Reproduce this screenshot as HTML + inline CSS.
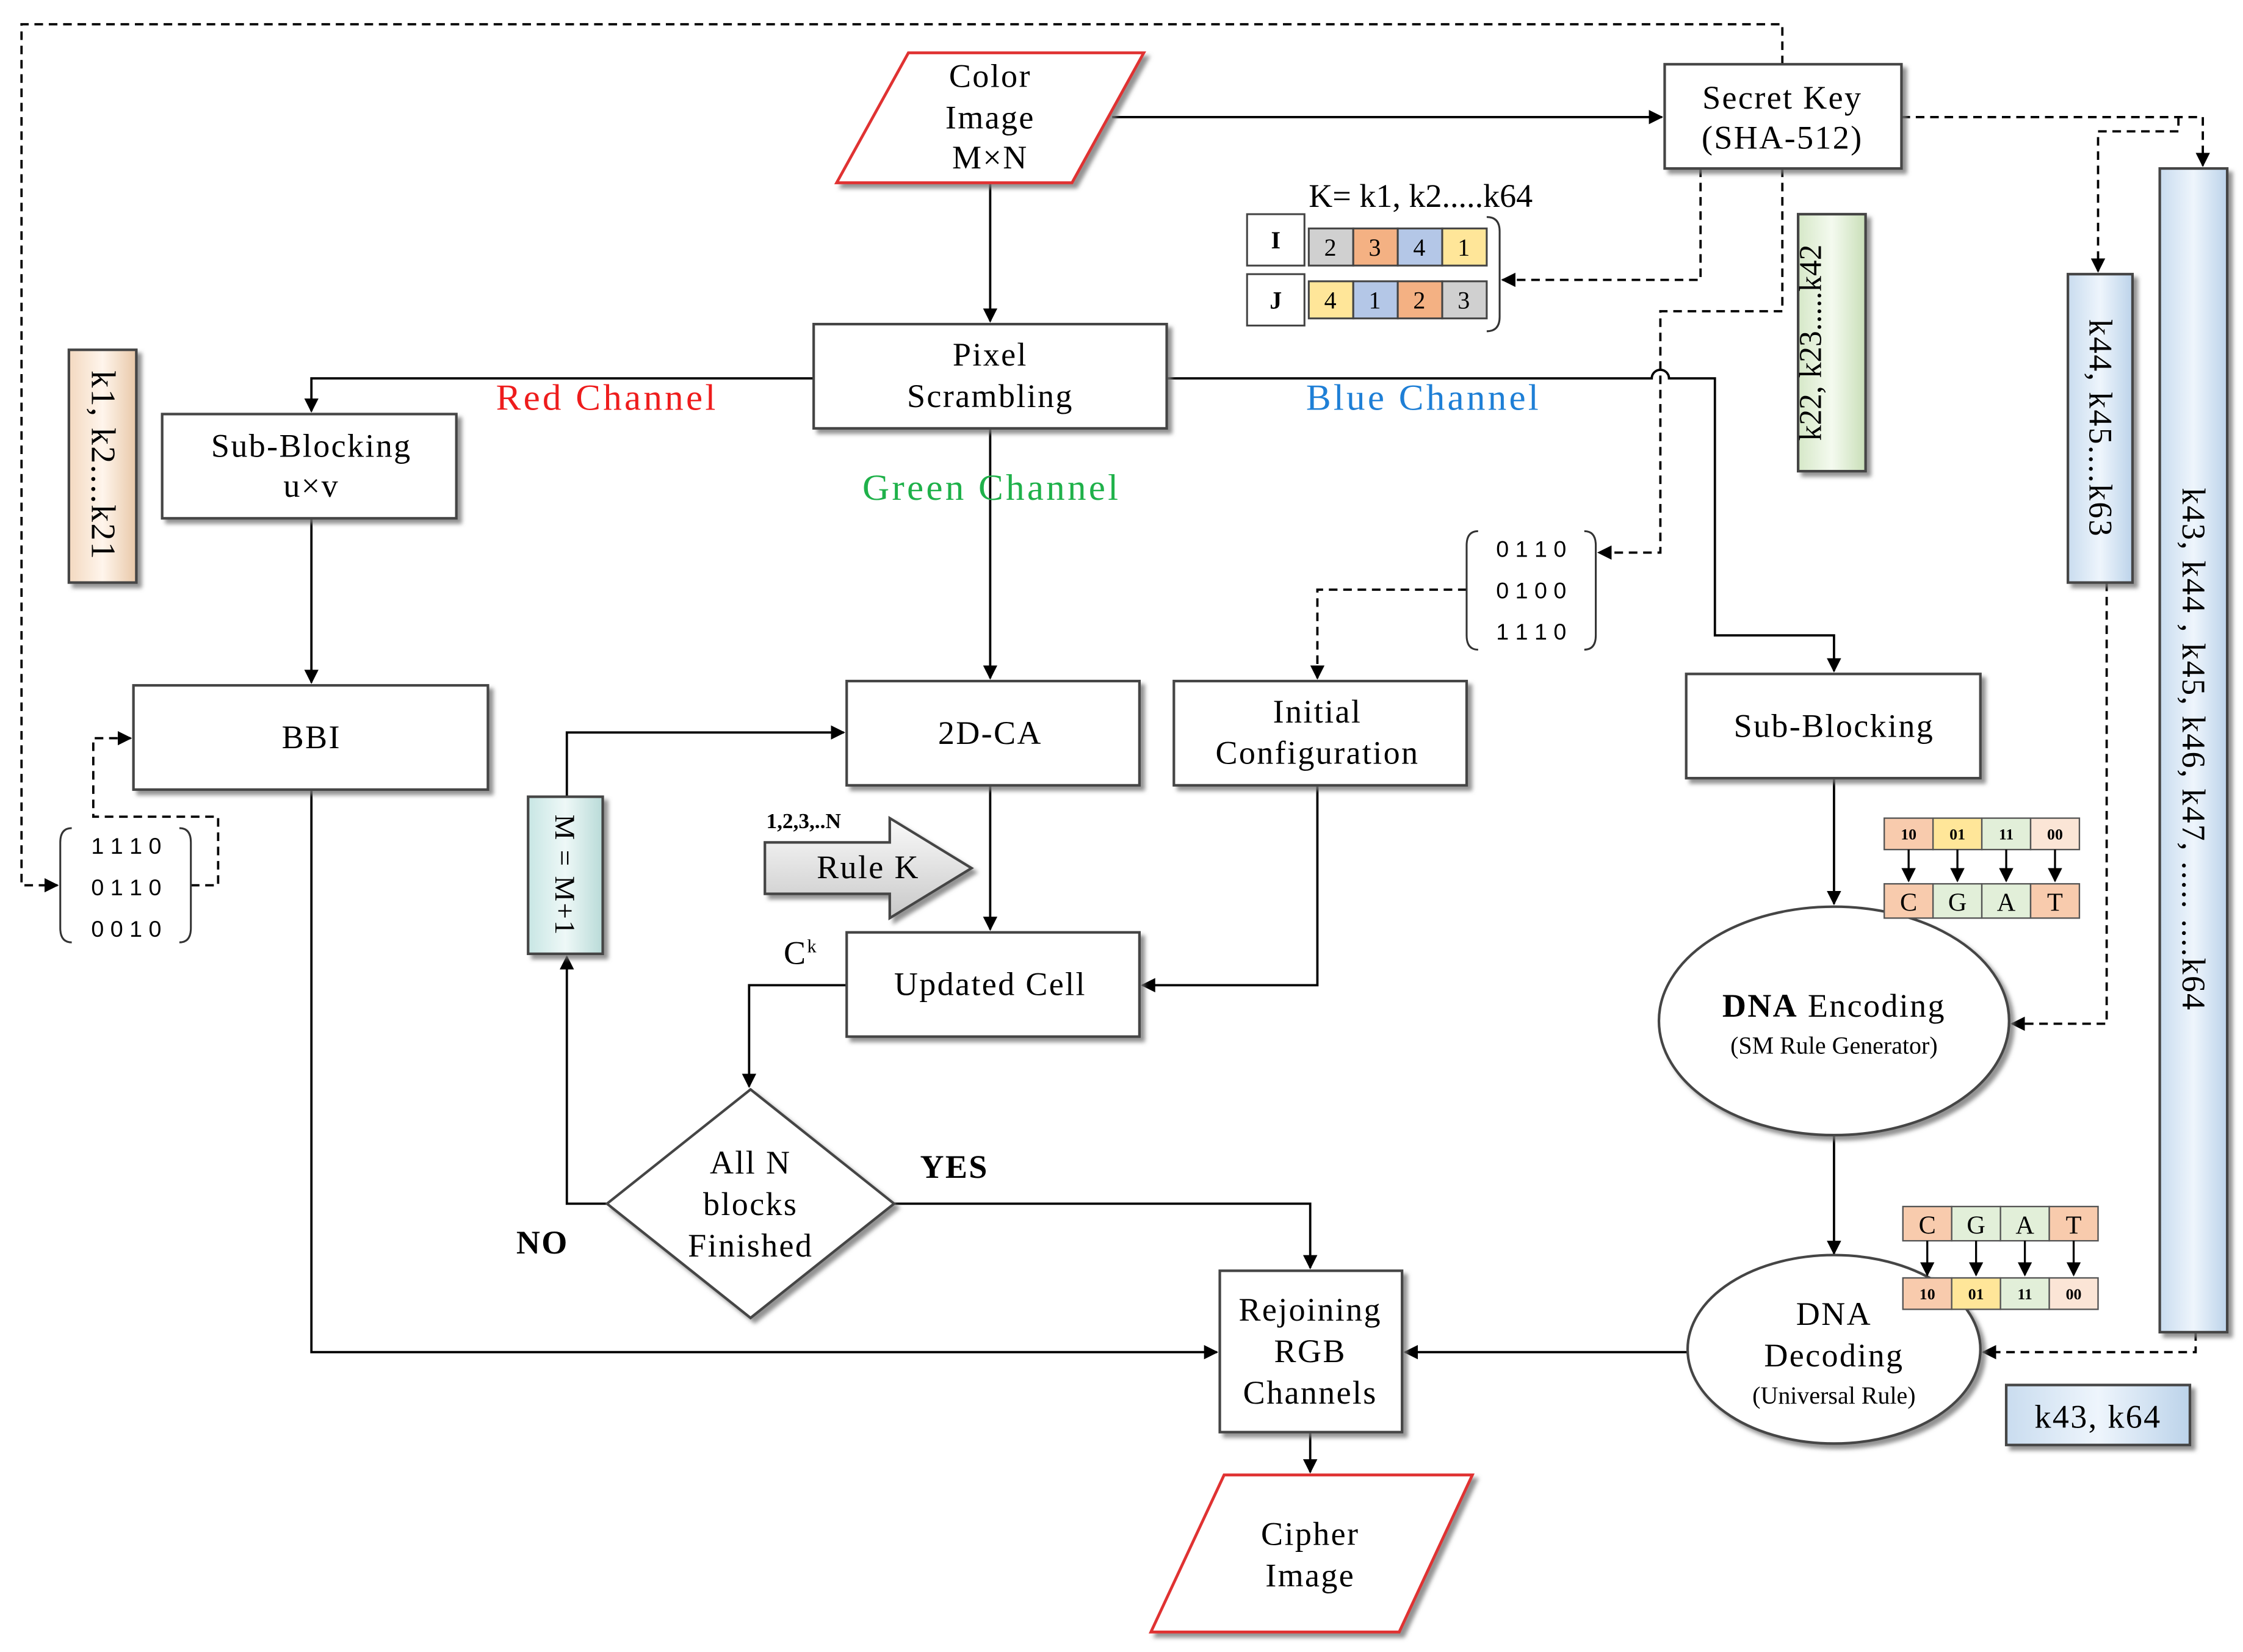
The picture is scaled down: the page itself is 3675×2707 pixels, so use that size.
<!DOCTYPE html>
<html><head><meta charset="utf-8">
<style>
html,body{margin:0;padding:0;background:#fff;}
svg{display:block;}
text{font-family:"Liberation Serif",serif;}
</style></head>
<body>
<svg width="3675" height="2707" viewBox="0 0 1563 1157" preserveAspectRatio="none" xmlns="http://www.w3.org/2000/svg">
<defs>
<marker id="a" markerWidth="10" markerHeight="10" refX="9" refY="5" orient="auto" markerUnits="userSpaceOnUse"><path d="M0,0 L10,5 L0,10 z" fill="#000"/></marker>
<filter id="sh" x="-10%" y="-10%" width="130%" height="140%"><feDropShadow dx="3" dy="3" stdDeviation="1.5" flood-color="#777" flood-opacity="0.8"/></filter>
<linearGradient id="gp" x1="0" x2="1"><stop offset="0" stop-color="#f3d9c0"/><stop offset="0.5" stop-color="#fff5ec"/><stop offset="1" stop-color="#e9c8a8"/></linearGradient>
<linearGradient id="gg" x1="0" x2="1"><stop offset="0" stop-color="#d6e8c8"/><stop offset="0.5" stop-color="#f4faef"/><stop offset="1" stop-color="#c9dfb8"/></linearGradient>
<linearGradient id="gb" x1="0" x2="1"><stop offset="0" stop-color="#c9dcef"/><stop offset="0.5" stop-color="#eef5fc"/><stop offset="1" stop-color="#bcd3ea"/></linearGradient>
<linearGradient id="gt" x1="0" x2="1"><stop offset="0" stop-color="#c8e6e4"/><stop offset="0.5" stop-color="#eef8f7"/><stop offset="1" stop-color="#b9dbd8"/></linearGradient>
<linearGradient id="ga" x1="0" y1="0" x2="0" y2="1"><stop offset="0" stop-color="#fafafa"/><stop offset="1" stop-color="#c8c8c8"/></linearGradient>
</defs>

<g fill="none" stroke="#000" stroke-width="1.6">
<path d="M690,128 V225" marker-end="url(#a)"/>
<path d="M775,82 H1158" marker-end="url(#a)"/>
<path d="M567,265 H217 V288" marker-end="url(#a)"/>
<path d="M813,265 H1151 a6,6 0 0 1 12,0 H1195 V445 H1278 V470" marker-end="url(#a)"/>
<path d="M690,300 V475" marker-end="url(#a)"/>
<path d="M217,363 V478" marker-end="url(#a)"/>
<path d="M217,553 V947 H848" marker-end="url(#a)"/>
<path d="M690,550 V651" marker-end="url(#a)"/>
<path d="M918,550 V690 H796" marker-end="url(#a)"/>
<path d="M590,690 H522 V761" marker-end="url(#a)"/>
<path d="M623,843 H913 V888" marker-end="url(#a)"/>
<path d="M423,843 H395 V670" marker-end="url(#a)"/>
<path d="M395,558 V513 H588" marker-end="url(#a)"/>
<path d="M1278,545 V633" marker-end="url(#a)"/>
<path d="M1278,795 V878" marker-end="url(#a)"/>
<path d="M1176,947 H979" marker-end="url(#a)"/>
<path d="M913,1003 V1031" marker-end="url(#a)"/>
</g>
<g fill="none" stroke="#000" stroke-width="1.6" stroke-dasharray="6,4">
<path d="M1242,45 V17 H15 V620 H40" marker-end="url(#a)"/>
<path d="M133,620 H152 V572 H65 V517 H91" marker-end="url(#a)"/>
<path d="M1185,118 V196 H1047" marker-end="url(#a)"/>
<path d="M1242,118 V218 H1157 V387 H1114" marker-end="url(#a)"/>
<path d="M1022,413 H918 V475" marker-end="url(#a)"/>
<path d="M1325,82 H1535 V116" marker-end="url(#a)"/>
<path d="M1518,82 V92 H1462 V190" marker-end="url(#a)"/>
<path d="M1468,408 V717 H1402" marker-end="url(#a)"/>
<path d="M1530,933 V947 H1382" marker-end="url(#a)"/>
</g>

<g filter="url(#sh)" fill="#fff" stroke="#e03030" stroke-width="2">
<path d="M633,37 H797 L747,128 H583 Z"/>
<path d="M853,1033 H1026 L975,1143 H802 Z"/>
</g>
<g filter="url(#sh)" fill="#fff" stroke="#444" stroke-width="1.8">
<rect x="1160" y="45" width="165" height="73"/>
<rect x="567" y="227" width="246" height="73"/>
<rect x="113" y="290" width="205" height="73"/>
<rect x="93" y="480" width="247" height="73"/>
<rect x="590" y="477" width="204" height="73"/>
<rect x="818" y="477" width="204" height="73"/>
<rect x="1175" y="472" width="205" height="73"/>
<rect x="590" y="653" width="204" height="73"/>
<rect x="850" y="890" width="127" height="113"/>
<path d="M523,763 L623,843 L523,923 L423,843 Z"/>
<ellipse cx="1278" cy="715" rx="122" ry="80"/>
<ellipse cx="1278" cy="945" rx="102" ry="66"/>
<rect x="368" y="558" width="52" height="110" fill="url(#gt)"/>
<rect x="48" y="245" width="47" height="163" fill="url(#gp)"/>
<rect x="1253" y="150" width="47" height="180" fill="url(#gg)"/>
<rect x="1441" y="192" width="45" height="216" fill="url(#gb)"/>
<rect x="1505" y="118" width="47" height="815" fill="url(#gb)"/>
<rect x="1398" y="970" width="128" height="42" fill="url(#gb)"/>
<path d="M533,590 H620 V573 L677,608 L620,643 V626 H533 Z" fill="url(#ga)"/>
</g>

<g font-size="23" text-anchor="middle" fill="#000" letter-spacing="1">
<text x="690" y="61">Color</text><text x="690" y="90">Image</text><text x="690" y="118">M×N</text>
<text x="1242" y="76">Secret Key</text><text x="1242" y="104">(SHA-512)</text>
<text x="690" y="256">Pixel</text><text x="690" y="285">Scrambling</text>
<text x="217" y="320">Sub-Blocking</text><text x="217" y="348">u×v</text>
<text x="217" y="524">BBI</text>
<text x="690" y="521">2D-CA</text>
<text x="918" y="506">Initial</text><text x="918" y="535">Configuration</text>
<text x="1278" y="516">Sub-Blocking</text>
<text x="690" y="697">Updated Cell</text>
<text x="523" y="822">All N</text><text x="523" y="851">blocks</text><text x="523" y="880">Finished</text>
<text x="913" y="925">Rejoining</text><text x="913" y="954">RGB</text><text x="913" y="983">Channels</text>
<text x="913" y="1082">Cipher</text><text x="913" y="1111">Image</text>
<text x="1278" y="712"><tspan font-weight="bold">DNA</tspan> Encoding</text>
<text x="1278" y="738" font-size="17" letter-spacing="0">(SM Rule Generator)</text>
<text x="1278" y="928">DNA</text><text x="1278" y="957">Decoding</text>
<text x="1278" y="983" font-size="17" letter-spacing="0">(Universal Rule)</text>
<text x="605" y="615">Rule K</text>
<text x="1462" y="1000">k43, k64</text>
<text x="423" y="287" fill="#ee1c1c" font-size="26" letter-spacing="1.8">Red Channel</text>
<text x="992" y="287" fill="#1e7fd6" font-size="26" letter-spacing="1.8">Blue Channel</text>
<text x="691" y="350" fill="#1fb14a" font-size="26" letter-spacing="1.8">Green Channel</text>
<text x="990" y="145" letter-spacing="0">K= k1, k2.....k64</text>
<text x="665" y="825" font-weight="bold">YES</text>
<text x="378" y="878" font-weight="bold">NO</text>
<text x="558" y="675">C<tspan font-size="13" dy="-8">k</tspan></text>
<text x="560" y="580" font-size="15" font-weight="bold" letter-spacing="0">1,2,3,..N</text>
<text transform="translate(387,613) rotate(90)" font-size="20">M = M+1</text>
<text transform="translate(64,326) rotate(90)" font-size="24">k1, k2....k21</text>
<text transform="translate(1269,240) rotate(-90)" font-size="22" letter-spacing="0">k22, k23.....k42</text>
<text transform="translate(1456,300) rotate(90)" font-size="23">k44, k45....k63</text>
<text transform="translate(1521,525) rotate(90)" font-size="23">k43, k44 , k45, k46, k47, ..... ....k64</text>
</g>

<g fill="none" stroke="#333" stroke-width="1.3">
<path d="M1030,372 q-8,0 -8,10 v63 q0,10 8,10"/><path d="M1104,372 q8,0 8,10 v63 q0,10 -8,10"/>
<path d="M50,580 q-8,0 -8,10 v60 q0,10 8,10"/><path d="M125,580 q8,0 8,10 v60 q0,10 -8,10"/>
<path d="M1036,152 q9,0 9,10 v60 q0,10 -9,10"/>
</g>
<g font-size="16" text-anchor="middle">
<text x="1067" y="390" style="font-family:'Liberation Sans',sans-serif">0 1 1 0</text>
<text x="1067" y="419" style="font-family:'Liberation Sans',sans-serif">0 1 0 0</text>
<text x="1067" y="448" style="font-family:'Liberation Sans',sans-serif">1 1 1 0</text>
<text x="88" y="598" style="font-family:'Liberation Sans',sans-serif">1 1 1 0</text>
<text x="88" y="627" style="font-family:'Liberation Sans',sans-serif">0 1 1 0</text>
<text x="88" y="656" style="font-family:'Liberation Sans',sans-serif">0 0 1 0</text>
</g>

<g stroke="#444" stroke-width="1.3">
<rect x="869" y="150" width="40" height="36" fill="#fff"/>
<rect x="869" y="192" width="40" height="36" fill="#fff"/>
<rect x="912" y="160" width="31" height="26" fill="#d0d0d0"/><rect x="943" y="160" width="31" height="26" fill="#f4b183"/>
<rect x="974" y="160" width="31" height="26" fill="#b4c7e7"/><rect x="1005" y="160" width="31" height="26" fill="#ffe699"/>
<rect x="912" y="197" width="31" height="26" fill="#ffe699"/><rect x="943" y="197" width="31" height="26" fill="#b4c7e7"/>
<rect x="974" y="197" width="31" height="26" fill="#f4b183"/><rect x="1005" y="197" width="31" height="26" fill="#d0d0d0"/>
</g>
<g font-size="17" text-anchor="middle" style="font-family:'Liberation Sans',sans-serif">
<text x="889" y="174" font-weight="bold" style="font-family:'Liberation Serif',serif">I</text>
<text x="889" y="216" font-weight="bold" style="font-family:'Liberation Serif',serif">J</text>
<text x="927" y="179">2</text><text x="958" y="179">3</text><text x="989" y="179">4</text><text x="1020" y="179">1</text>
<text x="927" y="216">4</text><text x="958" y="216">1</text><text x="989" y="216">2</text><text x="1020" y="216">3</text>
</g>

<g stroke="#555" stroke-width="1">
<rect x="1313" y="573" width="34" height="22" fill="#f8cbad"/><rect x="1347" y="573" width="34" height="22" fill="#ffe699"/>
<rect x="1381" y="573" width="34" height="22" fill="#e2efd9"/><rect x="1415" y="573" width="34" height="22" fill="#fbe5d6"/>
<rect x="1313" y="619" width="34" height="24" fill="#f8cbad"/><rect x="1347" y="619" width="34" height="24" fill="#e2efd9"/>
<rect x="1381" y="619" width="34" height="24" fill="#e2efd9"/><rect x="1415" y="619" width="34" height="24" fill="#f8cbad"/>
<rect x="1326" y="845" width="34" height="24" fill="#f8cbad"/><rect x="1360" y="845" width="34" height="24" fill="#e2efd9"/>
<rect x="1394" y="845" width="34" height="24" fill="#e2efd9"/><rect x="1428" y="845" width="34" height="24" fill="#f8cbad"/>
<rect x="1326" y="895" width="34" height="22" fill="#f8cbad"/><rect x="1360" y="895" width="34" height="22" fill="#ffe699"/>
<rect x="1394" y="895" width="34" height="22" fill="#e2efd9"/><rect x="1428" y="895" width="34" height="22" fill="#fbe5d6"/>
</g>
<g stroke="#000" stroke-width="1.4" fill="none">
<path d="M1330,595 V617" marker-end="url(#a)"/><path d="M1364,595 V617" marker-end="url(#a)"/>
<path d="M1398,595 V617" marker-end="url(#a)"/><path d="M1432,595 V617" marker-end="url(#a)"/>
<path d="M1343,869 V893" marker-end="url(#a)"/><path d="M1377,869 V893" marker-end="url(#a)"/>
<path d="M1411,869 V893" marker-end="url(#a)"/><path d="M1445,869 V893" marker-end="url(#a)"/>
</g>
<g text-anchor="middle" font-weight="bold">
<g font-size="11"><text x="1330" y="588">10</text><text x="1364" y="588">01</text><text x="1398" y="588">11</text><text x="1432" y="588">00</text>
<text x="1343" y="910">10</text><text x="1377" y="910">01</text><text x="1411" y="910">11</text><text x="1445" y="910">00</text></g>
<g font-size="18" font-weight="normal"><text x="1330" y="638">C</text><text x="1364" y="638">G</text><text x="1398" y="638">A</text><text x="1432" y="638">T</text>
<text x="1343" y="864">C</text><text x="1377" y="864">G</text><text x="1411" y="864">A</text><text x="1445" y="864">T</text></g>
</g>
</svg>
</body></html>
